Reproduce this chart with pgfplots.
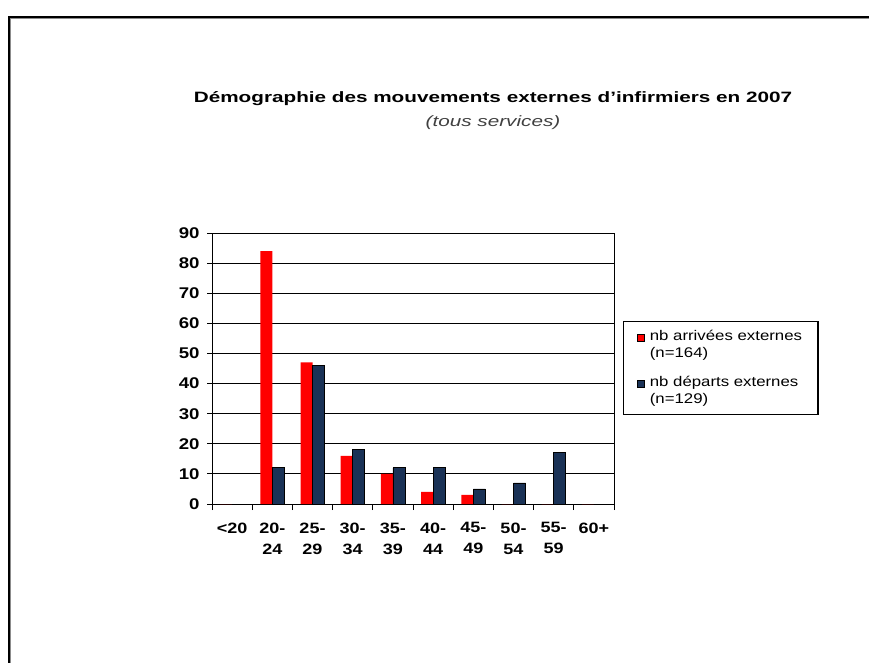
\documentclass[border=0pt]{standalone}
\usepackage{pgfplots}
\pgfplotsset{compat=1.18}
\usepackage{fontspec}
\setmainfont{Liberation Sans}[FakeStretch=1.2]
\newfontfamily\titlefont{Liberation Sans}[FakeStretch=1.38]
\definecolor{navy}{RGB}{26,50,86}
\definecolor{rred}{RGB}{255,0,0}
\begin{document}
\begin{tikzpicture}[x=1pt,y=1pt]
\useasboundingbox (0,0) rectangle (869,-662);
\begin{scope}
\clip (0,0) rectangle (869,-662);
\draw[line width=2.4pt, black!45] (9.5,-17.5) rectangle (900,-700);
\draw[line width=1.4pt] (9,-17) rectangle (900,-700);
\end{scope}
\node[font=\titlefont\fontsize{15}{18}\selectfont\bfseries] at (493,-99) {Démographie des mouvements externes d’infirmiers en 2007};
\node[font=\titlefont\fontsize{15}{18}\selectfont\itshape, text=black!75] at (493,-123) {(tous services)};
\begin{axis}[
  at={(212pt,-504pt)}, anchor=south west,
  scale only axis, width=402pt, height=271pt,
  ybar=0pt, bar width=12pt,
  xmin=-0.5, xmax=9.5, ymin=0, ymax=90,
  ytick={0,10,...,90},
  xtick={0,...,9},
  xticklabels={{<20},{20-\\24},{25-\\29},{30-\\34},{35-\\39},{40-\\44},{45-\\49},{50-\\54},{55-\\59},{60+}},
  xticklabel style={align=center, font=\fontsize{15}{21}\selectfont\bfseries, yshift=-10pt},
  yticklabel style={font=\fontsize{15.5}{18}\selectfont\bfseries, xshift=-4pt},
  /pgf/number format/assume math mode=true,
  xtick pos=bottom, ytick pos=left,
  tick align=outside,
  x tick style={draw=none},
  y tick style={black, line width=1pt},
  major tick length=5pt,
  extra x ticks={-0.5,0.5,...,9.5},
  extra x tick labels={},
  extra x tick style={x tick style={draw=black, line width=1pt}, major tick length=6pt},
  ymajorgrids, major grid style={black, line width=0.9pt},
  axis line style={black, line width=1pt},
  legend style={at={(1.022,0.675)}, anchor=north west, draw=black, line width=1.2pt,
    font=\fontsize{14}{17}\selectfont, cells={align=left, anchor=west}, row sep=13pt,
    inner xsep=14pt, inner ysep=7pt, column sep=3pt},
  legend image code/.code={\filldraw[#1, line width=0.4pt] (0pt,4pt) rectangle (7pt,11pt);},
]
\addplot[fill=rred, draw=none] coordinates {(0,0) (1,84) (2,47) (3,16) (4,10) (5,4) (6,3) (7,0) (8,0) (9,0)};
\addplot[fill=navy, draw=black, line width=0.8pt] coordinates {(0,0) (1,12) (2,46) (3,18) (4,12) (5,12) (6,5) (7,7) (8,17) (9,0)};
\legend{nb arrivées externes\\(n=164), nb départs externes\\(n=129)}
\end{axis}
\end{tikzpicture}
\end{document}
